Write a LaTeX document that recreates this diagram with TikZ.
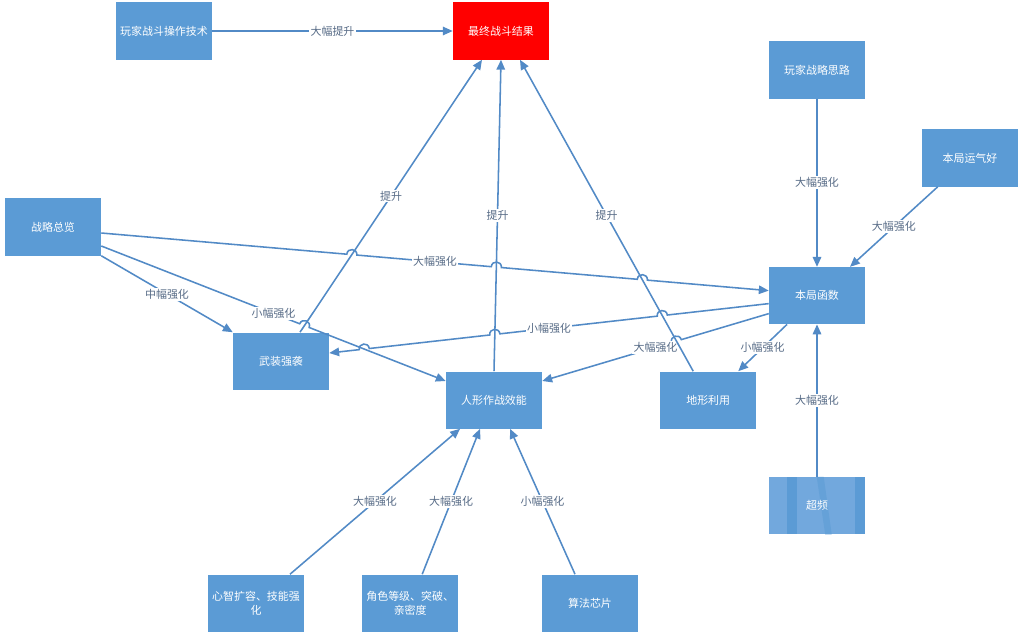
\documentclass[tikz,border=0pt]{standalone}
\usepackage{fontspec}
\newfontfamily\cjk{Noto Sans CJK SC}
\usetikzlibrary{arrows.meta,positioning,calc,intersections,backgrounds}
\definecolor{boxblue}  {RGB}{91,155,213}
\definecolor{paleblue} {RGB}{114,168,221}
\definecolor{resultred}{RGB}{255,0,0}
\definecolor{linkblue} {RGB}{82,138,198}
\definecolor{lbltext}  {RGB}{88,108,135}
\tikzset{
  mainbox/.style={fill=boxblue, text=white, align=center,
                  minimum width=2.4cm, minimum height=1.425cm,
                  font=\cjk\fontsize{7.8}{10}\selectfont, inner sep=2pt},
  redbox/.style ={mainbox, fill=resultred},
  arr/.style    ={-{Triangle[length=7pt,width=6pt]}, line width=1.1pt, draw=linkblue},
  lbl/.style    ={fill=white, text=lbltext, inner sep=1pt,
                  font=\cjk\fontsize{7.8}{9}\selectfont},
}
%% jump over a crossing line: #1 crossing, #2 start side, #3 end side, #4 up angle
\newcommand{\hop}[4]{-- ($(#1)!3.6pt!(#2)$)
  .. controls ($(#1)!3.6pt!(#2)!4.8pt!#4:(#3)$) and ($(#1)!3.6pt!(#3)!4.8pt!#4:(#3)$)
  .. ($(#1)!3.6pt!(#3)$)}

\begin{document}
\begin{tikzpicture}[x=0.025cm, y=-0.025cm]
  \begin{scope}[on background layer]
    \fill[white] (0,0) rectangle (1024,639);
  \end{scope}
  \node[redbox] (jieguo) at (501,31) {最终战斗结果};
  \node[mainbox] (jishu) at (164,31) {玩家战斗操作技术};
  \node[mainbox] (silu) at (817,70) {玩家战略思路};
  \node[mainbox, below=4.2cm of silu] (hanshu) {本局函数};
  \node[mainbox] (yunqi) at (970,158) {本局运气好};
  \node[mainbox] (zonglan) at (53,227) {战略总览};
  \node[mainbox] (qiangxi) at (281,361) {武装强袭};
  \node[mainbox] (xiaoneng) at (494,400) {人形作战效能};
  \node[mainbox, right=2.94cm of xiaoneng] (dixing) {地形利用};
  \node[mainbox, below=3.81cm of hanshu, fill=none] (chaopin) {超频};
  \node[mainbox] (xinzhi) at (256,603) {心智扩容、技能强\\化};
  \node[mainbox, right=1.44cm of xinzhi] (dengji) {角色等级、突破、\\亲密度};
  \node[mainbox, right=2.08cm of dengji] (xinpian) {算法芯片};
  \begin{scope}[on background layer]
    \fill[paleblue] (chaopin.north west) rectangle (chaopin.south east);
    \fill[boxblue] ($(chaopin.north west)+(18.5,0)$) rectangle ($(chaopin.south west)+(28.5,0)$);
    \fill[boxblue] ($(chaopin.north west)+(86.5,0)$) rectangle (chaopin.south east);
    \fill[boxblue!55!paleblue] ($(chaopin.north west)+(48,0)$) -- ($(chaopin.north west)+(55,0)$)
      -- ($(chaopin.south west)+(63,0)$) -- ($(chaopin.south west)+(56.5,0)$) -- cycle;
  \end{scope}

  % connector ends
  \coordinate (tsA1) at ($(qiangxi.north)+(19,0)$);
  \coordinate (tsA2) at ($(jieguo.south)+(-19,0)$);
  \coordinate (tsC1) at ($(dixing.north)+(-15,0)$);
  \coordinate (tsC2) at ($(jieguo.south)+(19,0)$);
  \coordinate (da1) at ($(zonglan.east)+(0,6)$);
  \coordinate (da2) at ($(hanshu.west)+(0,-5)$);
  \coordinate (xiao1) at ($(zonglan.east)+(0,19)$);
  \coordinate (xiao2) at ($(xiaoneng.west)+(0,-19)$);
  \coordinate (xq1) at ($(hanshu.west)+(0,8)$);
  \coordinate (xq2) at ($(qiangxi.east)+(0,-8)$);
  \coordinate (dx1) at ($(hanshu.west)+(0,18)$);
  \coordinate (dx2) at ($(xiaoneng.east)+(0,-19)$);

  \path[name path=tsA] (tsA1) -- (tsA2);
  \path[name path=tsB] (xiaoneng.north) -- (jieguo.south);
  \path[name path=tsC] (tsC1) -- (tsC2);
  \path[name path=xiao] (xiao1) -- (xiao2);
  \path[name path=da] (da1) -- (da2);
  \path[name path=xq] (xq1) -- (xq2);
  \path[name path=dx] (dx1) -- (dx2);
  \path[name intersections={of=da and tsA, by=h1}];
  \path[name intersections={of=da and tsB, by=h2}];
  \path[name intersections={of=da and tsC, by=h3}];
  \path[name intersections={of=xq and xiao, by=h4}];
  \path[name intersections={of=xq and tsB, by=h5}];
  \path[name intersections={of=xq and tsC, by=h6}];
  \path[name intersections={of=xiao and tsA, by=h7}];
  \path[name intersections={of=dx and tsC, by=h8}];

  \draw[arr] (da1) \hop{h1}{da1}{da2}{90} \hop{h2}{da1}{da2}{90} \hop{h3}{da1}{da2}{90} -- (da2);
  \draw[arr] (xq1) \hop{h6}{xq1}{xq2}{-90} \hop{h5}{xq1}{xq2}{-90} \hop{h4}{xq1}{xq2}{-90} -- (xq2);
  \draw[arr] (xiao1) \hop{h7}{xiao1}{xiao2}{90} -- (xiao2);
  \draw[arr] (dx1) \hop{h8}{dx1}{dx2}{-90} -- (dx2);
  \node[lbl] (lda) at ($(da1)!0.5!(da2)$) {大幅强化};
  \node[lbl] (lxq) at ($(xq1)!0.5!(xq2)$) {小幅强化};
  \node[lbl] (lxiao) at ($(xiao1)!0.5!(xiao2)$) {小幅强化};
  \node[lbl] (ldx) at ($(dx1)!0.5!(dx2)$) {大幅强化};

  \draw[arr] (tsA1) -- node[lbl] {提升} (tsA2);
  \draw[arr] (xiaoneng.north) -- node[lbl] {提升} (jieguo.south);
  \draw[arr] (tsC1) -- node[lbl] {提升} (tsC2);
  \draw[arr] (jishu.east) -- node[lbl] {大幅提升} (jieguo.west);
  \draw[arr] (zonglan.south east) -- node[lbl] {中幅强化} (qiangxi.north west);
  \draw[arr] ($(hanshu.south)+(-30,0)$) -- node[lbl] {小幅强化} ($(dixing.north)+(30,0)$);
  \draw[arr] (silu) -- node[lbl] {大幅强化} (hanshu);
  \draw[arr] ($(yunqi.south west)+(16,0)$) -- node[lbl] {大幅强化} ($(hanshu.north)+(33,0)$);
  \draw[arr] (chaopin) -- node[lbl] {大幅强化} (hanshu);
  \draw[arr] ($(xinzhi.north)+(34,0)$) -- node[lbl] {大幅强化} ($(xiaoneng.south)+(-34,0)$);
  \draw[arr] ($(dengji.north)+(12,0)$) -- node[lbl] {大幅强化} ($(xiaoneng.south)+(-14,0)$);
  \draw[arr] ($(xinpian.north)+(-15,0)$) -- node[lbl] {小幅强化} ($(xiaoneng.south)+(16,0)$);
\end{tikzpicture}
\end{document}
